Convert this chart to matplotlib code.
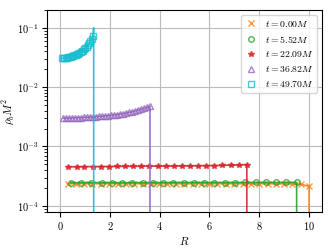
import numpy as np
import matplotlib
matplotlib.use("Agg")
from matplotlib import pyplot as plt

plt.rcParams['font.family'] = 'serif'
plt.rcParams['font.serif'] = ['cmr10']
plt.rcParams['mathtext.fontset'] = 'cm'
plt.rcParams['axes.formatter.use_mathtext'] = True
plt.rcParams['font.size'] = 8

# t = 0.00M
R_0 = [0.30, 0.63, 0.97, 1.30, 1.64, 1.97, 2.31, 2.64, 2.98, 3.31, 3.64, 3.98, 4.31, 4.65, 4.98,
       5.32, 5.65, 5.99, 6.32, 6.66, 6.99, 7.33, 7.66, 8.00, 8.33, 8.66, 9.00, 9.33, 9.67, 10.00]
rho_0 = [2.36, 2.36, 2.36, 2.36, 2.36, 2.36, 2.36, 2.36, 2.36, 2.36, 2.36, 2.36, 2.36, 2.36, 2.36,
         2.36, 2.36, 2.36, 2.36, 2.36, 2.36, 2.36, 2.36, 2.36, 2.36, 2.35, 2.35, 2.34, 2.32, 2.12]
# t = 5.52M
R_1 = [0.43, 0.84, 1.25, 1.67, 2.08, 2.49, 2.90, 3.31, 3.73, 4.14, 4.55, 4.96, 5.37, 5.79, 6.20,
       6.61, 7.02, 7.43, 7.85, 8.26, 8.67, 9.08, 9.50]
rho_1 = [2.46, 2.46, 2.46, 2.46, 2.46, 2.46, 2.46, 2.46, 2.46, 2.47, 2.47, 2.47, 2.47, 2.47, 2.47,
         2.47, 2.47, 2.48, 2.48, 2.48, 2.48, 2.48, 2.49]
# t = 22.09M
R_2 = [0.33, 0.66, 0.98, 1.31, 1.63, 1.96, 2.29, 2.61, 2.94, 3.26, 3.59, 3.92, 4.24, 4.57, 4.89,
       5.22, 5.55, 5.87, 6.20, 6.52, 6.85, 7.18, 7.50]
rho_2 = [4.55, 4.56, 4.57, 4.58, 4.59, 4.60, 4.61, 4.62, 4.63, 4.64, 4.65, 4.66, 4.68, 4.69, 4.71,
         4.72, 4.74, 4.76, 4.78, 4.81, 4.84, 4.88, 4.95]
# t = 36.82M
R_3 = [0.13, 0.25, 0.37, 0.49, 0.61, 0.73, 0.85, 0.97, 1.09, 1.21, 1.33, 1.45, 1.57, 1.69, 1.81,
       1.93, 2.05, 2.17, 2.29, 2.41, 2.53, 2.65, 2.77, 2.89, 3.01, 3.13, 3.25, 3.37, 3.49, 3.61]
rho_3 = [3.00, 3.01, 3.02, 3.03, 3.04, 3.06, 3.07, 3.09, 3.11, 3.13, 3.15, 3.18, 3.21, 3.24, 3.27,
         3.31, 3.35, 3.40, 3.45, 3.51, 3.58, 3.66, 3.75, 3.85, 3.97, 4.10, 4.24, 4.40, 4.56, 4.75]
# t = 49.70M
R_4 = [0.07, 0.12, 0.17, 0.22, 0.27, 0.32, 0.37, 0.42, 0.47, 0.52, 0.57, 0.62, 0.67, 0.72, 0.77,
       0.82, 0.87, 0.92, 0.97, 1.02, 1.07, 1.12, 1.17, 1.22, 1.27, 1.31]
rho_4 = [30.5, 30.7, 30.9, 31.2, 31.5, 31.8, 32.2, 32.6, 33.1, 33.6, 34.2, 34.9, 35.6, 36.5, 37.5,
         38.6, 39.9, 41.4, 43.2, 45.3, 47.8, 50.8, 54.5, 59.2, 65.5, 72.0]

labels = [r'$t = 0.00M$', r'$t = 5.52M$', r'$t = 22.09M$', r'$t = 36.82M$', r'$t = 49.70M$']
# edge of each profile: radius, value at the tip before the drop
R_edge = [10.00, 9.50, 7.50, 3.61, 1.35]
tip = [None, None, None, None, 100.0]
scale = [1e-4, 1e-4, 1e-4, 1e-3, 1e-3]

series = [(R_0, rho_0), (R_1, rho_1), (R_2, rho_2), (R_3, rho_3), (R_4, rho_4)]
colors = ['tab:orange', 'tab:green', 'tab:red', 'tab:purple', 'tab:cyan']
markers = ['x', 'o', '*', '^', 's']
filled = [True, False, True, False, False]

fig = plt.figure(figsize=(3.32, 2.49), dpi=100)
ax = fig.add_axes([0.142, 0.149, 0.828, 0.811])

for i, (R, rho) in enumerate(series):
    R = np.array(R)
    rho = np.array(rho) * scale[i]
    lx = list(R)
    ly = list(rho)
    if tip[i] is not None:
        lx.append(R_edge[i])
        ly.append(tip[i] * scale[i])
    lx.append(R_edge[i])
    ly.append(1e-6)
    ax.plot(lx, ly, color=colors[i], lw=1.2, alpha=0.9)
    mfc = colors[i] if filled[i] else 'none'
    ax.plot(R, rho, ls='none', marker=markers[i], ms=4, mew=1.0,
            color=colors[i], mfc=mfc, alpha=0.8, label=labels[i])

ax.set_yscale('log')
ax.set_xlim(-0.52, 10.52)
ax.set_ylim(7.9e-5, 0.2)
ax.set_xticks([0, 2, 4, 6, 8, 10])
ax.tick_params(labelsize=7.5, pad=2.5)
ax.grid(True, color='#bbbbbb', lw=0.8)
ax.set_axisbelow(True)
ax.set_xlabel(r'$R$', labelpad=2)
ax.set_ylabel(r'$\rho_b M^2$')
ax.yaxis.set_label_coords(-0.115, 0.5)
ax.legend(loc='upper right', fontsize=7, handlelength=1.2)

fig.savefig('out.png', dpi=100)
